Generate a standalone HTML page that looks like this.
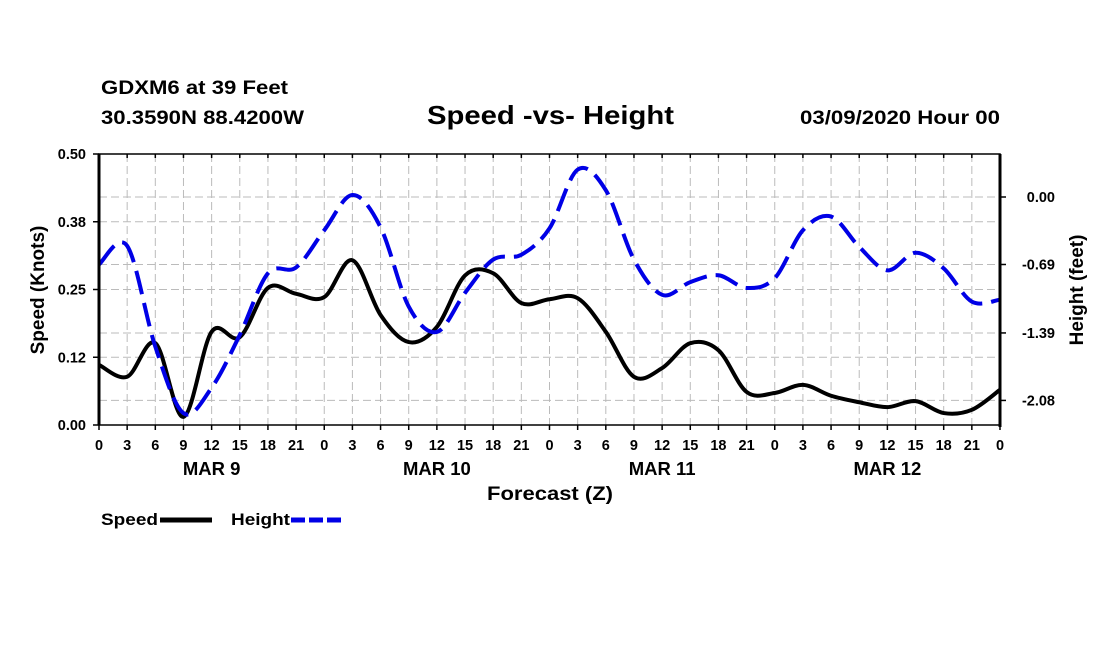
<!DOCTYPE html>
<html><head><meta charset="utf-8"><style>
body{margin:0;background:#fff;}
svg text{font-family:"Liberation Sans",sans-serif;font-weight:bold;fill:#000;}
</style></head><body>
<svg id="chart" width="1100" height="650" xmlns="http://www.w3.org/2000/svg">
<text x="101" y="94" font-size="19" textLength="187" lengthAdjust="spacingAndGlyphs">GDXM6 at 39 Feet</text>
<text x="101" y="124" font-size="19" textLength="203" lengthAdjust="spacingAndGlyphs">30.3590N 88.4200W</text>
<text x="427" y="124" font-size="26" textLength="247" lengthAdjust="spacingAndGlyphs">Speed -vs- Height</text>
<text x="800" y="124" font-size="19" textLength="200" lengthAdjust="spacingAndGlyphs">03/09/2020 Hour 00</text>
<g id="grid"></g>
<g id="series"></g>
<g id="axes"></g>
<text x="487" y="500" font-size="19" textLength="126" lengthAdjust="spacingAndGlyphs">Forecast (Z)</text>
<text transform="translate(44,290) rotate(-90)" font-size="19" text-anchor="middle">Speed (Knots)</text>
<text transform="translate(1083,290) rotate(-90)" font-size="19" text-anchor="middle">Height (feet)</text>
<g>
<text x="101" y="525" font-size="17" textLength="57" lengthAdjust="spacingAndGlyphs">Speed</text>
<line x1="160" y1="520" x2="212" y2="520" stroke="#000" stroke-width="5"/>
<text x="231" y="525" font-size="17" textLength="59" lengthAdjust="spacingAndGlyphs">Height</text>
<line x1="291" y1="520" x2="342" y2="520" stroke="#0000e6" stroke-width="5" stroke-dasharray="14,4"/>
</g>
</svg>
<script>
const hours = [0,3,6,9,12,15,18,21,24,27,30,33,36,39,42,45,48,51,54,57,60,63,66,69,72,75,78,81,84,87,90,93,96];
const speed = [0.111,0.089,0.151,0.015,0.172,0.162,0.253,0.242,0.236,0.304,0.203,0.153,0.181,0.276,0.280,0.225,0.232,0.234,0.172,0.089,0.105,0.151,0.138,0.061,0.059,0.074,0.054,0.042,0.033,0.044,0.022,0.028,0.065];
const height = [-0.69,-0.50,-1.53,-2.21,-1.95,-1.41,-0.78,-0.72,-0.34,0.02,-0.31,-1.12,-1.38,-0.98,-0.64,-0.59,-0.32,0.28,0.07,-0.64,-1.00,-0.87,-0.80,-0.93,-0.83,-0.34,-0.20,-0.51,-0.75,-0.57,-0.73,-1.07,-1.05];
const leftTicks = [0,0.125,0.25,0.375,0.5];
const leftTickLabels = ["0.00","0.12","0.25","0.38","0.50"];
const rightTicks = [0,-0.69,-1.39,-2.08];
const rightTickLabels = ["0.00","-0.69","-1.39","-2.08"];
const xTickLabels = ["0","3","6","9","12","15","18","21"];
const dayLabels = ["MAR 9","MAR 10","MAR 11","MAR 12"];

const NS="http://www.w3.org/2000/svg";
const X0=99,X1=1000,Y0=425,Y1=154;
const xs=h=>X0+(h/96)*(X1-X0);
const ysL=v=>Y0-(v/0.5)*(Y0-Y1);
const ysR=v=>197-(v)*97.8;
function mk(tag,attrs,parent){const e=document.createElementNS(NS,tag);for(const k in attrs)e.setAttribute(k,attrs[k]);parent.appendChild(e);return e;}
const grid=document.getElementById('grid'),axes=document.getElementById('axes'),series=document.getElementById('series');
const gs={stroke:"#bbb","stroke-width":1,"stroke-dasharray":"8,4"};
for(let h=3;h<96;h+=3){const l=mk('line',Object.assign({x1:xs(h),x2:xs(h),y1:Y1,y2:Y0},gs),grid);

}
leftTicks.forEach((v,i)=>{const y=ysL(v);
if(i>0&&i<leftTicks.length-1){const l=mk('line',Object.assign({x1:X0,x2:X1,y1:y,y2:y},gs),grid);

}
const t=mk('line',{x1:X0-6,x2:X0,y1:y,y2:y,stroke:"#000","stroke-width":1.5},axes);


const tx=mk('text',{x:X0-13,y:y+5,"font-size":14.5,"text-anchor":"end"},axes);tx.textContent=leftTickLabels[i];

});
rightTicks.forEach((v,i)=>{const y=ysR(v);
const l=mk('line',Object.assign({x1:X0,x2:X1,y1:y,y2:y},gs),grid);


const t=mk('line',{x1:X1,x2:X1+6,y1:y,y2:y,stroke:"#000","stroke-width":1.5},axes);


const tx=mk('text',{x:1055,y:y+5,"font-size":14.5,"text-anchor":"end"},axes);tx.textContent=rightTickLabels[i];

});
for(let h=0;h<=96;h+=3){const x=xs(h);
const t=mk('line',{x1:x,x2:x,y1:Y0,y2:Y0+5,stroke:"#000","stroke-width":1.5},axes);


const t2=mk('line',{x1:x,x2:x,y1:Y1,y2:Y1+4,stroke:"#000","stroke-width":1.5},axes);


const tx=mk('text',{x:x,y:450,"font-size":14.5,"text-anchor":"middle"},axes);tx.textContent=xTickLabels[(h/3)%8];

}
dayLabels.forEach((d,i)=>{const tx=mk('text',{x:xs(i*24+12),y:475,"font-size":18.5,"text-anchor":"middle"},axes);tx.textContent=d;

});
const fr=mk('rect',{x:X0,y:Y1,width:X1-X0,height:Y0-Y1,fill:"none",stroke:"#000","stroke-width":1.5},axes);


const la=mk('line',{x1:X0,x2:X0,y1:Y1,y2:Y0,stroke:"#000","stroke-width":3},axes);


const ra=mk('line',{x1:X1,x2:X1,y1:Y1,y2:Y0+2,stroke:"#000","stroke-width":3},axes);


function smooth(pts){let d=`M${pts[0][0]},${pts[0][1]}`;
for(let i=0;i<pts.length-1;i++){const p0=pts[Math.max(i-1,0)],p1=pts[i],p2=pts[i+1],p3=pts[Math.min(i+2,pts.length-1)];
const c1=[p1[0]+(p2[0]-p0[0])/6,p1[1]+(p2[1]-p0[1])/6],c2=[p2[0]-(p3[0]-p1[0])/6,p2[1]-(p3[1]-p1[1])/6];
d+=`C${c1[0]},${c1[1]} ${c2[0]},${c2[1]} ${p2[0]},${p2[1]}`;}return d;}
const sp=mk('path',{d:smooth(hours.map((h,i)=>[xs(h),ysL(speed[i])])),fill:"none",stroke:"#000","stroke-width":4},series);


const hp=mk('path',{d:smooth(hours.map((h,i)=>[xs(h),ysR(height[i])])),fill:"none",stroke:"#0000e6","stroke-width":4,"stroke-dasharray":"24,9"},series);


</script>
</body></html>
